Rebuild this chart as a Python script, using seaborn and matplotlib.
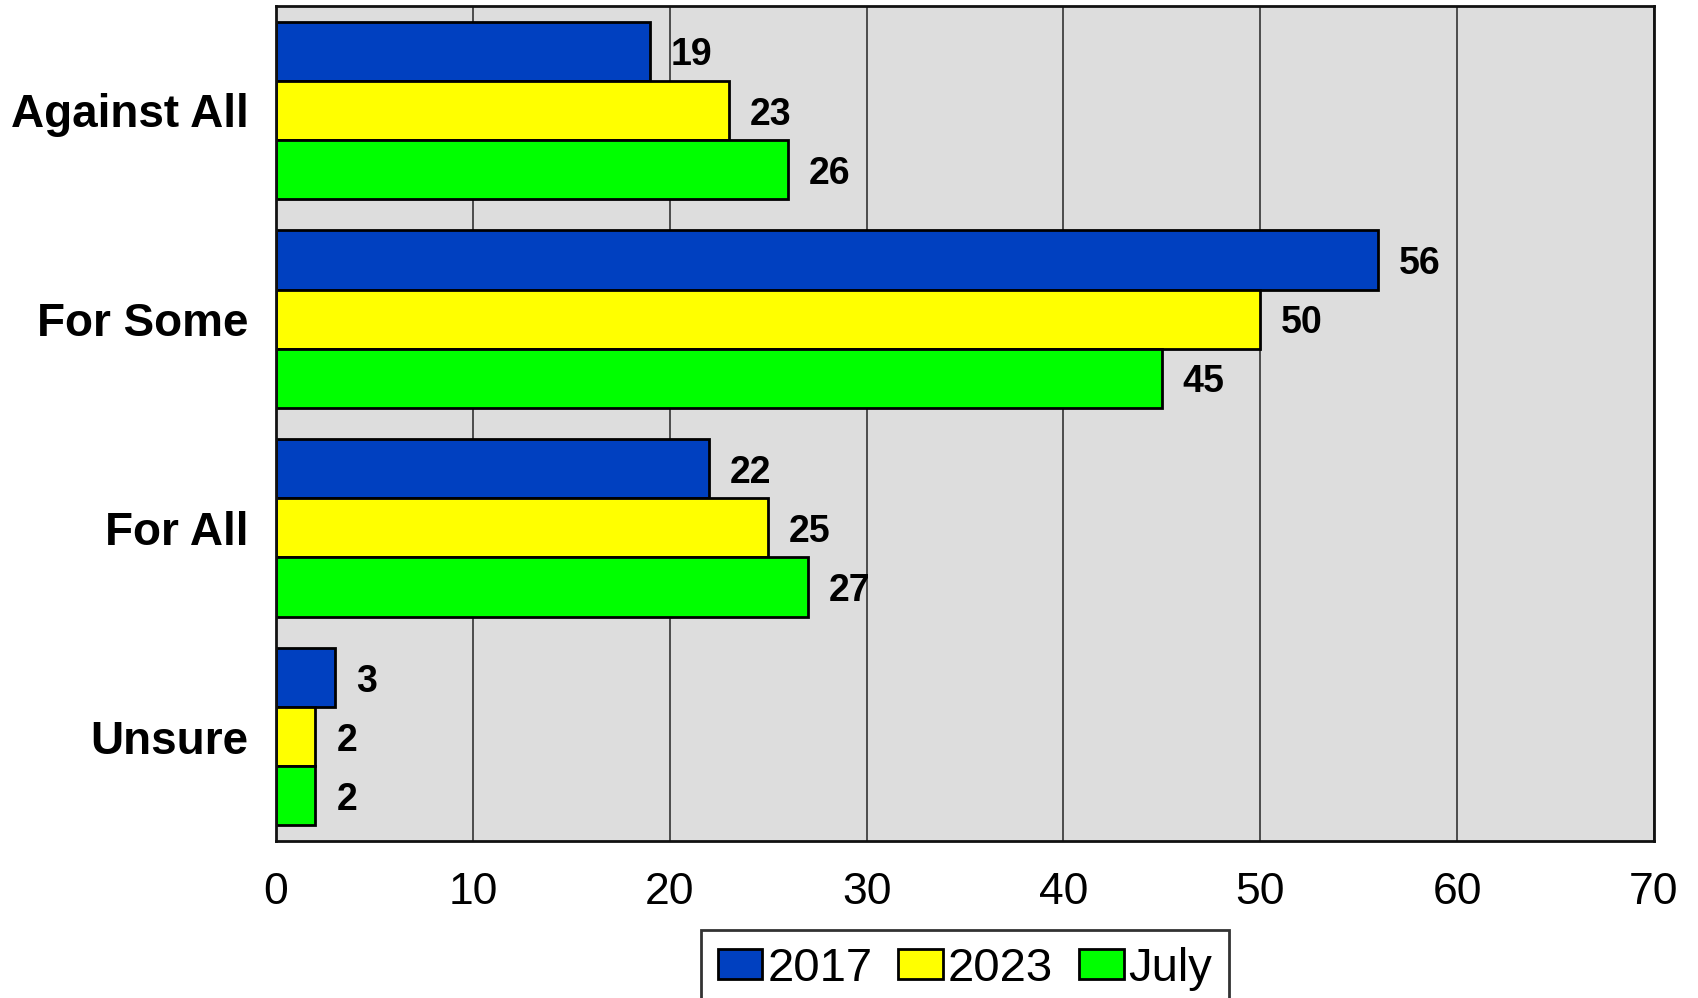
import pandas as pd
import matplotlib.pyplot as plt
import seaborn as sns

# Chart data
categories = ['Against All', 'For Some', 'For All', 'Unsure']
series = ['2017', '2023', 'July']
values_2017 = [19, 56, 22, 3]
values_2023 = [23, 50, 25, 2]
values_july = [26, 45, 27, 2]
x_ticks = [0, 10, 20, 30, 40, 50, 60, 70]

colors = ['#0040C0', '#FFFF00', '#00FF00']

# Long format table for seaborn
df = pd.DataFrame({
    'category': categories * 3,
    'series': [series[0]] * 4 + [series[1]] * 4 + [series[2]] * 4,
    'value': values_2017 + values_2023 + values_july,
})

sns.set_style('white')
plt.rcParams['font.family'] = ['Liberation Sans', 'DejaVu Sans']
plt.rcParams['text.color'] = 'black'
plt.rcParams['xtick.color'] = 'black'
plt.rcParams['ytick.color'] = 'black'

fig = plt.figure(figsize=(16.99, 9.98), dpi=100)
ax = fig.add_axes([0.1625, 0.1573, 0.811, 0.8367])
ax.set_facecolor('#DDDDDD')

sns.barplot(data=df, y='category', x='value', hue='series', order=categories,
            hue_order=series, palette=colors, orient='h', width=0.85,
            edgecolor='black', linewidth=2, saturation=1, ax=ax, legend=True)

# Vertical grid lines behind bars
ax.set_axisbelow(True)
ax.xaxis.grid(True, color='#333333', linewidth=1.2)
ax.yaxis.grid(False)

ax.set_xlim(0, 70)
ax.set_ylim(3.5, -0.5)
ax.set_xticks(x_ticks)
ax.set_xticklabels([str(t) for t in x_ticks])
ax.tick_params(axis='x', length=0, pad=22, labelsize=32, labelcolor='black')
ax.tick_params(axis='y', length=0, pad=20, labelsize=33, labelcolor='black')
for lbl in ax.get_yticklabels():
    lbl.set_fontweight('bold')
ax.set_xlabel('')
ax.set_ylabel('')

for sp in ax.spines.values():
    sp.set_visible(True)
    sp.set_color('#111111')
    sp.set_linewidth(2)

# Value labels
for cont in ax.containers:
    anns = ax.bar_label(cont, fmt='%d', padding=15, fontsize=27,
                        fontweight='bold', color='black')
    for a in anns:
        a.xyann = (15, -3)

# Legend below the axes
handles, labels = ax.get_legend_handles_labels()
ax.legend_.remove()
leg = fig.legend(handles, labels, loc='upper center', bbox_to_anchor=(0.568, 0.068),
                 ncol=3, fontsize=34, frameon=True, fancybox=False,
                 handlelength=0.95, handleheight=0.6, handletextpad=0.1,
                 columnspacing=0.55, borderpad=0.35, borderaxespad=0)
leg.get_frame().set_edgecolor('black')
leg.get_frame().set_linewidth(2)

fig.savefig('out.png', dpi=100)
